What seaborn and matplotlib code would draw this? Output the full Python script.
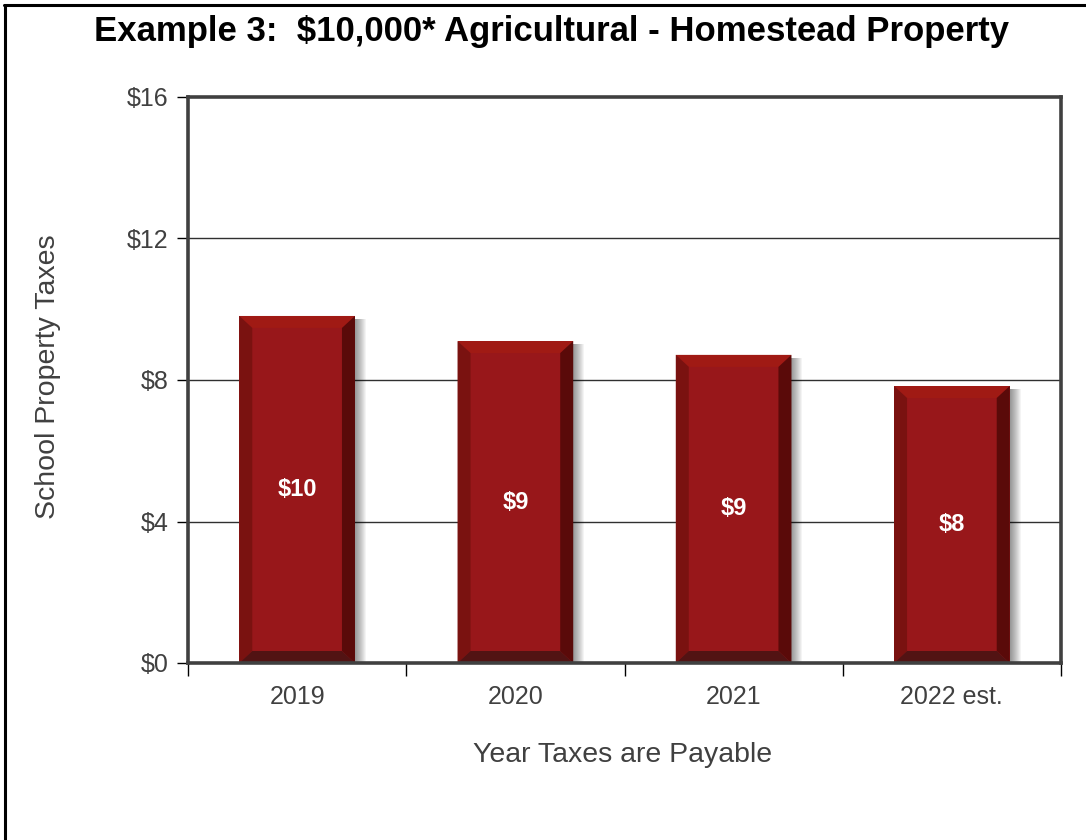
import matplotlib
matplotlib.use("Agg")
import matplotlib.pyplot as plt
from matplotlib.patches import Polygon, Rectangle
from matplotlib.lines import Line2D
import seaborn as sns
import pandas as pd

years = ["2019", "2020", "2021", "2022 est."]
taxes = [9.81, 9.10, 8.71, 7.83]
labels = ["$10", "$9", "$9", "$8"]
yticks = [0, 4, 8, 12, 16]
ytick_labels = ["$0", "$4", "$8", "$12", "$16"]

title = "Example 3:  $10,000* Agricultural - Homestead Property"
xlabel = "Year Taxes are Payable"
ylabel = "School Property Taxes"

sns.set_style("white")
NARROW = ["Liberation Sans Narrow", "Liberation Sans", "DejaVu Sans"]
plt.rcParams["font.family"] = NARROW

W, H = 1086, 840
fig = plt.figure(figsize=(W / 100, H / 100), dpi=100)
L, R, T, B = 188, 1061, 97, 663
ax = fig.add_axes([L / W, 1 - B / H, (R - L) / W, (B - T) / H])

df = pd.DataFrame({"year": years, "tax": taxes})
face = "#98171a"
sns.barplot(data=df, x="year", y="tax", color=face, saturation=1, width=0.53,
            ax=ax, zorder=3, edgecolor="none")

ax.set_xlim(-0.5, 3.5)
ax.set_ylim(0, 16)
ax.set_xlabel("")
ax.set_ylabel("")

# px -> data conversions
px_x = 4.0 / (R - L)
px_y = 16.0 / (B - T)
bx = 13 * px_x
by_top = 12 * px_y
by_bot = 12 * px_y

for p, lab in zip(ax.patches, labels):
    x0 = p.get_x()
    w = p.get_width()
    h = p.get_height()
    x1 = x0 + w
    # soft shadow to the right
    for k in range(1, 12):
        ax.add_patch(Rectangle((x1, 0), k * px_x, h - 3 * px_y, facecolor="#000000",
                               alpha=0.045, edgecolor="none", zorder=2))
    top = Polygon([(x0, h), (x1, h), (x1 - bx, h - by_top), (x0 + bx, h - by_top)],
                  closed=True, facecolor="#a01a14", edgecolor="none", zorder=4)
    left = Polygon([(x0, 0), (x0, h), (x0 + bx, h - by_top), (x0 + bx, by_bot)],
                   closed=True, facecolor="#7a1210", edgecolor="none", zorder=4)
    right = Polygon([(x1, 0), (x1, h), (x1 - bx, h - by_top), (x1 - bx, by_bot)],
                    closed=True, facecolor="#5a0a09", edgecolor="none", zorder=4)
    bot = Polygon([(x0, 0), (x1, 0), (x1 - bx, by_bot), (x0 + bx, by_bot)],
                  closed=True, facecolor="#521313", edgecolor="none", zorder=4)
    for poly in (top, left, right, bot):
        ax.add_patch(poly)
    ax.text(x0 + w / 2, h / 2, lab, ha="center", va="center", color="white",
            fontsize=17, fontweight="bold", zorder=6, family=NARROW)

# grid
for yv in yticks[1:-1]:
    ax.axhline(yv, color="#303030", lw=1.0, zorder=1)

# frame
for s in ax.spines.values():
    s.set_visible(True)
    s.set_color("#404040")
    s.set_linewidth(2.6)
    s.set_zorder(7)

ax.set_yticks(yticks)
ax.set_yticklabels(ytick_labels, fontsize=18, color="#404040")
ax.tick_params(axis="y", direction="out", length=8, width=1, color="black", pad=6, left=True)

ax.set_xticks(range(len(years)))
ax.set_xticklabels(years, fontsize=18, color="#404040")
ax.set_xticks([-0.5, 0.5, 1.5, 2.5, 3.5], minor=True)
ax.tick_params(axis="x", which="major", length=0, pad=16, bottom=True)
ax.tick_params(axis="x", which="minor", direction="out", length=9, width=1, color="black", bottom=True)

fig.text(552 / W, 1 - 31 / H, title, ha="center", va="center", fontsize=25,
         fontweight="bold", color="black", family=["Liberation Sans", "DejaVu Sans"])
fig.text(48 / W, 1 - 377 / H, ylabel, ha="center", va="center", rotation=90,
         fontsize=20.5, color="#404040", family=NARROW)
fig.text(623 / W, 1 - 755 / H, xlabel, ha="center", va="center",
         fontsize=20.5, color="#404040", family=NARROW)

# figure border (top and left)
fig.add_artist(Line2D([5 / W, 5 / W], [0, 1 - 5 / H], transform=fig.transFigure, color="black", lw=2.2))
fig.add_artist(Line2D([4 / W, 1], [1 - 5 / H, 1 - 5 / H], transform=fig.transFigure, color="black", lw=2.2))

fig.savefig("out.png", dpi=100, facecolor="white")
